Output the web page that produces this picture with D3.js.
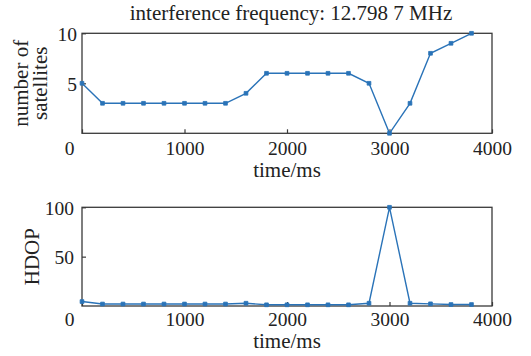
<!DOCTYPE html>
<html><head><meta charset="utf-8">
<script src="https://cdn.jsdelivr.net/npm/d3@7"></script>
<style>
html,body{margin:0;padding:0;background:#fff;}
svg text{font-family:"Liberation Serif","Times New Roman",serif;fill:#222;}
</style></head>
<body><svg id="c" width="531" height="356"></svg>
<script>
const times = [0,200,400,600,800,1000,1200,1400,1600,1800,2000,2200,2400,2600,2800,3000,3200,3400,3600,3800];
const satellites = [5,3,3,3,3,3,3,3,4,6,6,6,6,6,5,0,3,8,9,10];
const hdop = [4.5,2,2,2,2,2,2,2,2.8,1.2,1.2,1.2,1.2,1.2,2.8,100,2.8,2.2,1.5,1.5];
const xTicks = [0,1000,2000,3000,4000];
const satTicks = [5,10];
const hdopTicks = [50,100];
const title = "interference frequency: 12.798 7 MHz";

const svg = d3.select("#c");
const L = 82, R = 492;
const blue = "#2a73b8", boxCol = "#3a3a3a";
const x = d3.scaleLinear().domain([0,4000]).range([L,R]);

function panel(top, bottom, ymax, yTicks, values, ylabelLines, ylabX, yTickX, tickBase, xlabBase){
  const y = d3.scaleLinear().domain([0,ymax]).range([bottom,top]);
  const g = svg.append("g");
  g.append("rect").attr("x",L).attr("y",top).attr("width",R-L).attr("height",bottom-top)
    .attr("fill","none").attr("stroke",boxCol).attr("stroke-width",1.3);
  const xa = g.append("g").attr("transform",`translate(0,${bottom})`)
    .call(d3.axisBottom(x).tickValues(xTicks).tickSize(-4).tickSizeOuter(0).tickPadding(0).tickFormat(d3.format("d")));
  xa.select(".domain").remove();
  xa.selectAll("line").attr("stroke",boxCol).attr("stroke-width",1.2);
  xa.selectAll("text").attr("font-size",19.5).attr("dy",null).attr("y",tickBase-bottom)
    .attr("fill","#222")
    .attr("dx",d=>d===0?-13:0);
  const ya = g.append("g").attr("transform",`translate(${L},0)`)
    .call(d3.axisLeft(y).tickValues(yTicks).tickSize(-4).tickSizeOuter(0).tickPadding(0));
  ya.select(".domain").remove();
  ya.selectAll("line").attr("stroke",boxCol).attr("stroke-width",1.2);
  ya.selectAll("text").attr("font-size",19.5).attr("x",yTickX-L).attr("dy","0.35em").attr("fill","#222");
  const line = d3.line().x((d,i)=>x(times[i])).y(d=>y(d));
  g.append("path").datum(values).attr("d",line).attr("fill","none")
    .attr("stroke",blue).attr("stroke-width",1.4);
  g.selectAll(".m").data(values).enter().append("path")
    .attr("transform",(d,i)=>`translate(${x(times[i])},${y(d)})`)
    .attr("d",d3.symbol().type(d3.symbolSquare).size(14))
    .attr("fill",blue).attr("stroke",blue).attr("stroke-width",0.8);
  g.append("text").attr("x",(L+R)/2).attr("y",xlabBase).attr("text-anchor","middle")
    .attr("font-size",21).text("time/ms");
  const cy = (top+bottom)/2;
  ylabelLines.forEach((t,i)=>{
    g.append("text").attr("transform",`translate(${ylabX[i]},${cy}) rotate(-90)`)
      .attr("text-anchor","middle").attr("font-size",21).text(t);
  });
}

svg.append("text").attr("x",291).attr("y",20).attr("text-anchor","middle")
  .attr("font-size",21).text(title);

panel(33.3, 133.3, 10, satTicks, satellites, ["number of","satellites"], [28,47], 77, 155, 177);
panel(207.3, 306, 100, hdopTicks, hdop, ["HDOP"], [39], 74, 326, 348);
</script></body></html>
